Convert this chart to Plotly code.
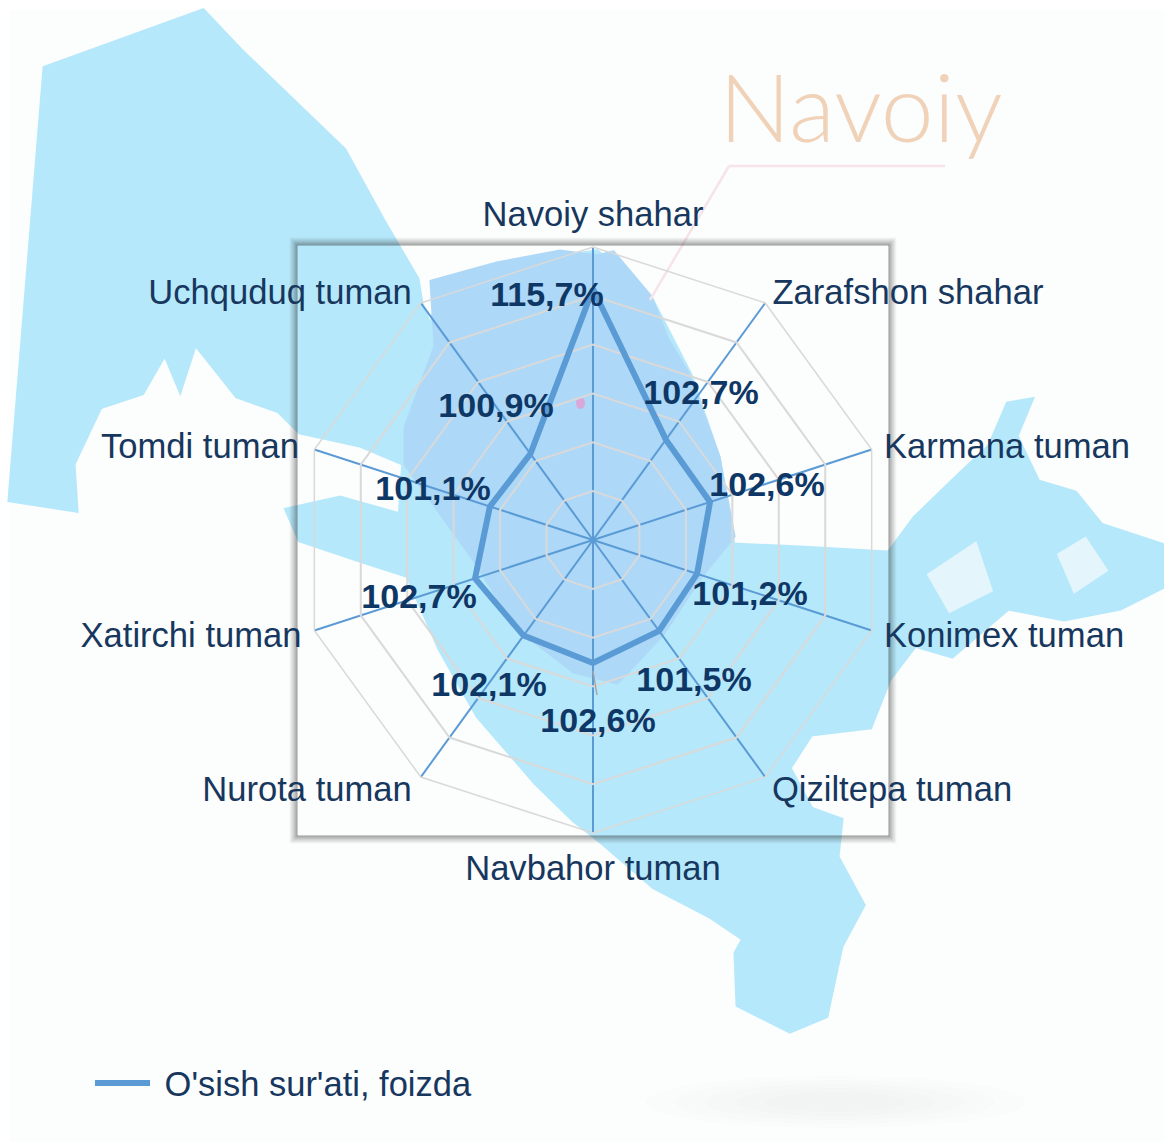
import math
import plotly.graph_objects as go

W, H = 1164, 1142

categories = ["Navoiy shahar", "Zarafshon shahar", "Karmana tuman", "Konimex tuman",
              "Qiziltepa tuman", "Navbahor tuman", "Nurota tuman", "Xatirchi tuman",
              "Tomdi tuman", "Uchquduq tuman"]
values = [115.7, 102.7, 102.6, 101.2, 101.5, 102.6, 102.1, 102.7, 101.1, 100.9]
value_labels = ["115,7%", "102,7%", "102,6%", "101,2%", "101,5%",
                "102,6%", "102,1%", "102,7%", "101,1%", "100,9%"]
series_name = "O'sish sur'ati, foizda"

R_MIN, R_MAX, R_STEP = 90, 120, 5
CX, CY, RAD = 593, 540, 293
LABEL_RAD = 530
label_centres_px = [(547, 297), (701, 395), (767, 487), (750, 596), (694, 682),
                    (598, 723), (489, 687), (419, 599), (433, 491), (496, 408)]
category_centres_px = [(593, 217), (908, 295), (1007, 449), (1004, 638), (892, 792),
                       (593, 871), (307, 792), (191, 638), (200, 449), (280, 295)]

TEXT = "#17375E"
BOLD_TEXT = "#0E3766"
LINE = "#5B9BD5"
LIGHT = "#B5E8FA"
DARK = "#ADD8F7"

def px_path(pts, close=True):
    s = "M" + " L".join(f"{x/W:.5f},{1-y/H:.5f}" for x, y in pts)
    return s + (" Z" if close else "")

def poly(pts, color, edge=True):
    return dict(type="path", xref="paper", yref="paper", layer="below", path=px_path(pts),
                fillcolor=color, line=dict(color=color, width=5 if edge else 0), opacity=1)

def to_polar(points):
    rs, ths = [], []
    for x, y in points:
        dx, dy = x - CX, CY - y
        rs.append(math.hypot(dx, dy) / LABEL_RAD)
        ths.append(math.degrees(math.atan2(dx, dy)) % 360)
    return rs, ths

map_main = [(45, 68), (203, 11), (240, 50), (344, 150), (383, 221), (417, 279), (421, 304),
            (436, 343), (410, 393), (413, 446), (405, 464), (360, 445), (300, 432), (279, 411),
            (237, 396), (195, 343), (180, 389), (165, 353), (142, 393), (100, 407), (73, 464),
            (76, 510), (10, 500)]
map_south = [(406, 430), (440, 290), (500, 266), (597, 252), (650, 297), (690, 375), (718, 457),
             (733, 545), (800, 548), (889, 553), (889, 679), (870, 727), (811, 734), (789, 768),
             (811, 809), (841, 820), (837, 857), (863, 905), (841, 946), (826, 1016), (790, 1031),
             (738, 1005), (736, 953), (744, 939), (710, 916), (654, 887), (602, 842), (574, 820),
             (536, 783), (478, 716), (440, 649), (406, 571), (400, 520)]
map_patch = [(287, 510), (340, 498), (400, 515), (406, 575), (360, 560), (300, 540)]
map_east = [(889, 553), (915, 518), (952, 482), (990, 446), (1008, 404), (1031, 400), (1016, 436),
            (1038, 482), (1075, 493), (1101, 525), (1164, 546), (1164, 586), (1120, 608),
            (1064, 619), (1008, 608), (952, 656), (915, 645), (889, 679)]
map_navoiy = [(432, 282), (497, 264), (560, 252), (597, 257), (613, 253), (650, 297), (667, 340),
              (687, 373), (718, 457), (733, 536), (699, 578), (662, 634), (617, 682), (574, 671),
              (517, 627), (475, 560), (406, 464), (406, 428), (436, 346)]

shapes = [dict(type="rect", xref="paper", yref="paper", layer="below", x0=10/W, x1=1, y0=0, y1=1-10/H,
               fillcolor="#FCFDFD", line=dict(width=0))]
for pts in (map_main, map_south, map_patch, map_east):
    shapes.append(poly(pts, LIGHT))
shapes.append(poly(map_navoiy, DARK))
for blob in ([(930, 575), (975, 545), (990, 590), (950, 610)],
             [(1060, 555), (1085, 540), (1105, 570), (1075, 590)]):
    shapes.append(poly(blob, "#E4F5FC"))
shapes.append(dict(type="line", xref="paper", yref="paper", layer="below",
                   x0=650/W, y0=1-300/H, x1=729/W, y1=1-166/H, line=dict(color="#F6E4E8", width=2.5)))
shapes.append(dict(type="line", xref="paper", yref="paper", layer="below",
                   x0=729/W, y0=1-166/H, x1=945/W, y1=1-166/H, line=dict(color="#F6E4E8", width=2.5)))
shapes.append(dict(type="circle", xref="paper", yref="paper", layer="below",
                   x0=576/W, x1=585/W, y0=1-409/H, y1=1-397/H, fillcolor="#D9A8D8", line=dict(width=0)))
for rx, ry in ((190, 26), (160, 22), (130, 18), (100, 14), (70, 10)):
    shapes.append(dict(type="circle", xref="paper", yref="paper", layer="below",
                       x0=(835-rx)/W, x1=(835+rx)/W, y0=1-(1102+ry)/H, y1=1-(1102-ry)/H,
                       fillcolor="rgba(120,130,140,0.014)", line=dict(width=0)))
BX0, BY0, BX1, BY1 = 298, 246, 888, 835
for i in range(1, 9):
    a = 0.55 * (1 - i / 9) ** 1.3
    shapes.append(dict(type="rect", xref="paper", yref="paper", layer="below",
                       x0=(BX0-i)/W, x1=(BX1+i)/W, y0=1-(BY1+i)/H, y1=1-(BY0-i)/H,
                       line=dict(color=f"rgba(40,40,40,{a:.3f})", width=1)))
shapes.append(dict(type="line", xref="paper", yref="paper", x0=593/W, y0=1-671/H, x1=597/W, y1=1-695/H,
                   line=dict(color="#A6A6A6", width=1.5)))

r_lab, th_lab = to_polar(label_centres_px)
r_cat, th_cat = to_polar(category_centres_px)

fig = go.Figure()
fig.add_trace(go.Scatterpolar(r=values + values[:1], theta=categories + categories[:1], mode="lines",
                              name="\u00a0" + series_name, subplot="polar", line=dict(color=LINE, width=6)))
fig.add_trace(go.Scatterpolar(r=r_cat, theta=th_cat, mode="text", text=categories, subplot="polar2",
                              textposition="middle center", showlegend=False, cliponaxis=False,
                              textfont=dict(family="Liberation Sans", size=34.6, color=TEXT)))
fig.add_trace(go.Scatterpolar(r=r_lab, theta=th_lab, mode="text", text=value_labels, subplot="polar2",
                              textposition="middle center", showlegend=False, cliponaxis=False,
                              textfont=dict(family="Liberation Sans", size=34, color=BOLD_TEXT, weight="bold")))

fig.update_layout(
    width=W, height=H, autosize=False, margin=dict(l=0, r=0, t=0, b=0),
    paper_bgcolor="#FFFFFF", shapes=shapes,
    font=dict(family="Liberation Sans", size=34, color=TEXT),
    polar=dict(
        domain=dict(x=[(CX-RAD)/W, (CX+RAD)/W], y=[1-(CY+RAD)/H, 1-(CY-RAD)/H]),
        bgcolor="rgba(0,0,0,0)", gridshape="linear",
        radialaxis=dict(range=[R_MIN, R_MAX], dtick=R_STEP, showline=False, ticks="",
                        showticklabels=False, gridcolor="#D9D9D9", gridwidth=1.5),
        angularaxis=dict(type="category", categoryorder="array", categoryarray=categories,
                         rotation=90, direction="clockwise", ticks="", showticklabels=False,
                         gridcolor=LINE, gridwidth=2, linecolor="#D9D9D9", linewidth=1.5),
    ),
    polar2=dict(
        domain=dict(x=[(CX-LABEL_RAD)/W, (CX+LABEL_RAD)/W], y=[1-(CY+LABEL_RAD)/H, 1-(CY-LABEL_RAD)/H]),
        bgcolor="rgba(0,0,0,0)",
        radialaxis=dict(range=[0, 1], visible=False),
        angularaxis=dict(type="linear", thetaunit="degrees", rotation=90, direction="clockwise",
                         visible=False),
    ),
    showlegend=True,
    legend=dict(x=90/W, y=1-1083/H, xanchor="left", yanchor="middle", bgcolor="rgba(0,0,0,0)",
                itemwidth=55, font=dict(family="Liberation Sans", size=34.5, color=TEXT)),
    annotations=[dict(text="Navoiy", xref="paper", yref="paper", x=861/W, y=1-105/H,
                      xanchor="center", yanchor="middle", showarrow=False,
                      font=dict(family="Lato", weight=300, size=95, color="#F0D2B8"))],
)
fig.write_html("out.html", post_script="document.body.style.margin='0';",
               config={"displayModeBar": False})
